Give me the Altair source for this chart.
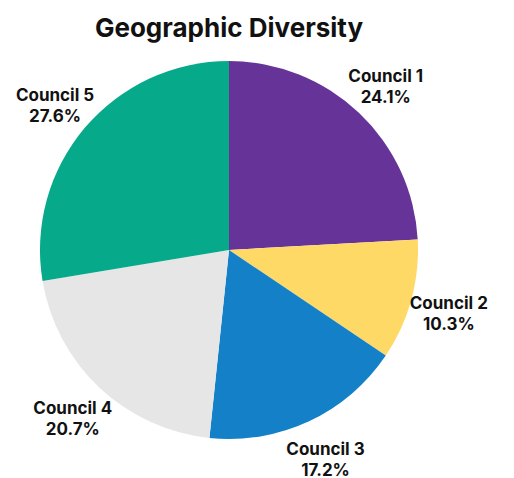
import altair as alt
import pandas as pd

categories = ["Council 1", "Council 2", "Council 3", "Council 4", "Council 5"]
values = [24.1, 10.3, 17.2, 20.7, 27.6]
colors = ["#663399", "#FFD966", "#1380C8", "#E6E6E6", "#06A98A"]

df = pd.DataFrame({
    "category": categories,
    "value": values,
    "order": list(range(len(categories))),
    "label": [f"{c}\n{v:.1f}%" for c, v in zip(categories, values)],
})

base = alt.Chart(df).encode(
    theta=alt.Theta("value:Q", stack=True),
    order=alt.Order("order:Q"),
)

pie = base.mark_arc(outerRadius=189).encode(
    color=alt.Color("category:N", scale=alt.Scale(domain=categories, range=colors), legend=None)
)

text = base.mark_text(
    radius=228, dy=-7, font="Inter", fontSize=17, fontWeight="bold", color="#111111",
    lineBreak="\n", lineHeight=21, align="center", baseline="middle"
).encode(text="label:N")

chart = (pie + text).properties(
    width=458, height=380,
    title=alt.TitleParams("Geographic Diversity", font="Inter", fontSize=26, fontWeight="bold",
                          color="#111111", anchor="middle", offset=18),
    autosize=alt.AutoSizeParams(type="none"),
    padding={"left": 0, "top": 60, "right": 56, "bottom": 38},
).configure_view(stroke=None)

chart.save("out.html", embed_options={"renderer": "svg", "actions": False})
